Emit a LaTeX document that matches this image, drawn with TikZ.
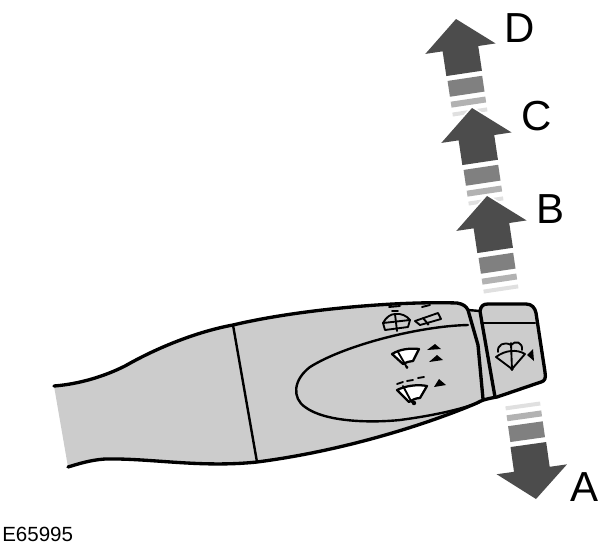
\documentclass[tikz,border=0pt]{standalone}
\usepackage{fontspec}
\setmainfont{Liberation Sans}
\def\shiftarrow(#1)(#2){%
	\begin{scope}[shift={(#1)}, rotate=#2]
		\fill[black!12] (-17.5, 92) rectangle (17.5, 96);
		\fill[black!30] (-17.5, 81) rectangle (17.5, 87);
		\fill[black!50] (-17.5, 60) rectangle (17.5, 76);
		\draw[white, line width=2.5pt] (0, 0) -- (35.5, 30) -- (18, 30) -- (18, 55) -- (-18, 55) -- (-18, 30) -- (-35.5, 30) -- cycle;
		\fill[black!70] (0, 0) -- (35.5, 30) -- (18, 30) -- (18, 55) -- (-18, 55) -- (-18, 30) -- (-35.5, 30) -- cycle;
	\end{scope}}
\tikzset{
	bigletter/.style={font=\fontsize{31.5}{32}\selectfont, inner sep=0pt},
	outline/.style={line width=2.5pt, line cap=round, line join=round},
	midline/.style={line width=1.8pt, line cap=round, line join=round},
	thinline/.style={line width=1.4pt, line cap=round, line join=round},
	fan/.style={line width=1.7pt, line join=round, fill=white},
}

\begin{document}
\begin{tikzpicture}[x=0.75pt, y=-0.75pt]
	\useasboundingbox (0, 0) rectangle (600, 551);
	
	%%%%% ARROWS %%%%%
	\shiftarrow(456, 19)(8.5)
	\shiftarrow(472, 108)(8.5)
	\shiftarrow(487, 196)(8.5)
	\shiftarrow(536, 499)(188)
	
	%%%%% LEVER %%%%%
	\fill[black!20] (54, 386) .. controls (80, 384) and (105, 376) .. (125, 366) .. controls (160, 346) and (200, 331) .. (233, 325) .. controls (300, 309) and (400, 301) .. (457, 303) .. controls (463, 304) and (466, 306) .. (468, 310) -- (480, 311) .. controls (481, 306) and (483, 304) .. (488, 304) -- (526, 304) .. controls (532, 304) and (535, 308) .. (536, 313) -- (545, 372) .. controls (546, 378) and (545, 381) .. (541, 382) -- (497, 397) .. controls (485, 399) and (480, 401) .. (477, 403) .. controls (435, 421) and (350, 450) .. (257, 462) .. controls (200, 468) and (150, 458) .. (105, 459) .. controls (90, 460) and (78, 464) .. (68, 467) -- cycle;
	
	\draw[outline] (54, 386) .. controls (80, 384) and (105, 376) .. (125, 366) .. controls (160, 346) and (200, 331) .. (233, 325) .. controls (300, 309) and (400, 301) .. (457, 303) .. controls (463, 304) and (466, 306) .. (468, 310) -- (478, 345) -- (483, 399);
	\draw[midline] (468, 310) -- (480, 311);
	\draw[outline] (482, 323) -- (480, 311) .. controls (481, 306) and (483, 304) .. (488, 304) -- (526, 304) .. controls (532, 304) and (535, 308) .. (536, 313) -- (545, 372) .. controls (546, 378) and (545, 381) .. (541, 382) -- (497, 397) .. controls (485, 399) and (480, 401) .. (477, 403) .. controls (435, 421) and (350, 450) .. (257, 462) .. controls (200, 468) and (150, 458) .. (105, 459) .. controls (90, 460) and (78, 464) .. (68, 467);
	\draw[outline] (482, 323) -- (495, 397);
	\draw[midline] (482, 323) -- (535, 323);
	\draw[midline] (233, 325) -- (257, 462);
	
	\draw[midline] (468, 325) .. controls (420, 326) and (345, 345) .. (310, 367) .. controls (293, 380) and (292, 398) .. (305, 407) .. controls (325, 422) and (370, 423) .. (400, 420) .. controls (430, 416) and (460, 410) .. (480, 402);
	
	%%%%% SYMBOLS %%%%%
	\draw[fan] (392, 354) .. controls (400, 349) and (410, 348) .. (419, 349) -- (413, 361) .. controls (410, 361) and (407, 362) .. (403, 364) -- cycle;
	\draw[thinline] (398, 352) -- (405, 364) -- (407, 368);
	\fill (407, 367) circle (1.5);
	\fill (427, 350) -- (435, 344) -- (441, 349) -- cycle;
	\fill (429, 362) -- (437, 355) -- (443, 360) -- cycle;
	
	\draw[fan] (397, 390) .. controls (405, 386) and (417, 384) .. (427, 386) -- (420, 398) .. controls (416, 398) and (412, 400) .. (409, 402) -- cycle;
	\draw[thinline] (403, 386) -- (411, 401) -- (414, 404);
	\fill (414, 403) circle (2.2);
	\draw[thinline] (397, 384) -- (403, 382);
	\draw[thinline] (407, 381) -- (413, 380);
	\draw[thinline] (418, 378) -- (424, 377);
	\fill (434, 387) -- (439, 379) -- (446, 385) -- cycle;
	
	\draw[thinline] (383, 323) .. controls (386, 317) and (391, 314) .. (395, 314) .. controls (401, 313) and (407, 316) .. (410, 320) -- cycle;
	\draw[thinline] (383, 323) -- (385, 330) -- (408, 327) -- (410, 320);
	\draw[thinline] (395, 314) -- (397, 331);
	\draw[thinline] (389, 307) -- (400, 306);
	\draw[thinline] (392, 311) -- (398, 311);
	
	\draw[thinline] (415, 321) -- (438, 313) -- (441, 319) -- (420, 325) -- cycle;
	\draw[thinline] (423, 318) -- (428, 324);
	\fill (428, 324) circle (1.5);
	\draw[thinline] (422, 307) -- (430, 305);
	
	\draw[thinline] (496, 357) .. controls (505, 350) and (517, 349) .. (525, 354) -- (512, 369) -- cycle;
	\draw[thinline] (498, 352) .. controls (497, 345) and (504, 341) .. (511, 345) .. controls (515, 340) and (523, 342) .. (522, 350);
	\draw[thinline] (511, 343) -- (512, 370);
	\fill (512, 369) circle (1.8);
	\fill (527, 355) -- (533, 349) -- (534, 361) -- cycle;
	
	%%%%% LABELS %%%%%
	\node[bigletter] (labelD) at (520, 28) {D};
	\node[bigletter] (labelC) at (537, 116.5) {C};
	\node[bigletter] (labelB) at (551, 209) {B};
	\node[bigletter] (labelA) at (585, 487.5) {A};
	\node[anchor=west, inner sep=0pt, font=\fontsize{15.4}{16}\selectfont] (code) at (2, 534) {E65995};
\end{tikzpicture}
\end{document}
